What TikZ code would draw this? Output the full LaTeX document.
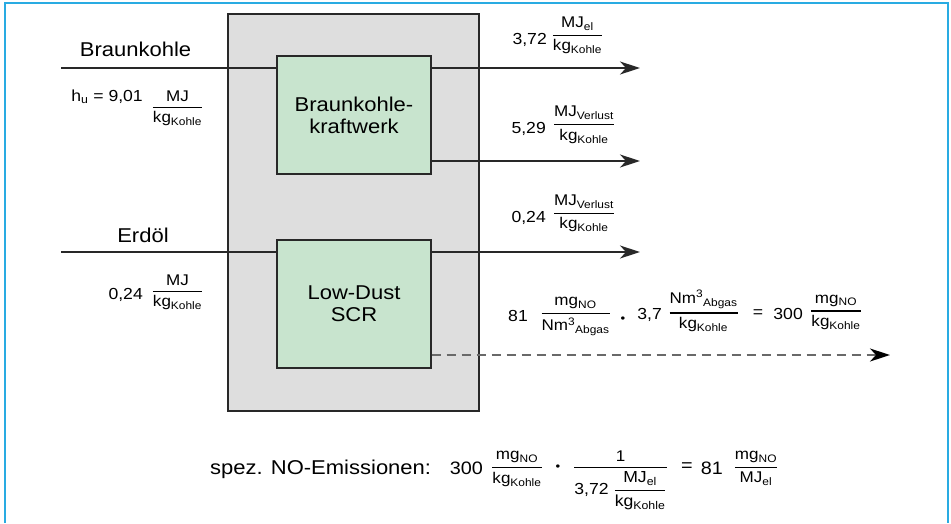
\documentclass[tikz,border=0pt]{standalone}
\usepackage{amsmath}
\usepackage{fontspec}
\setmainfont{Liberation Sans}[FakeStretch=1.1]
\usetikzlibrary{arrows.meta,calc}
\definecolor{frameblue}{RGB}{41,171,226}
\definecolor{boxgray}{RGB}{222,222,222}
\definecolor{boxgreen}{RGB}{200,228,206}
\definecolor{linegray}{RGB}{40,40,40}
\definecolor{dashgray}{RGB}{105,105,105}
\newcommand\fr[2]{$\genfrac{}{}{1.3pt}{0}{\mbox{#1}}{\mbox{#2}}$}
\newcommand\sub[1]{\textsubscript{#1}}
\begin{document}
\begin{tikzpicture}[x=1pt,y=-1pt,
  big/.style={font=\fontsize{20}{22}\selectfont, inner sep=0pt},
  small/.style={font=\fontsize{16}{19}\selectfont, inner sep=0pt},
  mid/.style={font=\fontsize{18}{21}\selectfont, inner sep=0pt},
  frc/.style={font=\fontsize{15.5}{18}\selectfont, inner sep=0pt, anchor=base},
  dotsym/.style={font=\fontsize{12}{14}\selectfont, inner sep=0pt},
  gbox/.style={draw=linegray, line width=1.4pt, fill=boxgreen, minimum width=154pt,
    align=center, font=\fontsize{20}{22}\selectfont, inner sep=0pt},
  flow/.style={draw=linegray, line width=1.6pt},
  arr/.style={flow, -{Stealth[length=20pt,width=13pt,inset=6pt]}},
  dasharr/.style={draw=dashgray, line width=1.8pt, dash pattern=on 9pt off 6pt,
    -{Stealth[length=20pt,width=13pt,inset=6pt,color=black]}}]
\useasboundingbox (0,0) rectangle (951,523);
\draw[frameblue, line width=2pt] (5,523) -- (5,3) -- (948,3) -- (948,523);

\node[draw=linegray, line width=1.8pt, fill=boxgray, minimum width=251pt,
  minimum height=397pt, inner sep=0pt] (anlage) at (353.5,212.5) {};
\node[gbox, minimum height=118pt] (kw) at (354,115) {Braunkohle-\\kraftwerk};
\node[gbox, minimum height=128pt] (scr) at (354,304) {Low-Dust\\SCR};

\coordinate (inA) at (61,68);
\coordinate (inB) at (61,252);
\coordinate (outA) at (640,68);
\coordinate (outB) at (640,161);
\coordinate (outC) at (640,252);
\coordinate (outD) at (890,355);

\draw[flow] (inA) -- (inA -| kw.west);
\draw[flow] (inB) -- (inB -| scr.west);
\draw[arr] (kw.east |- outA) -- (outA);
\draw[arr] (kw.east |- outB) -- (outB);
\draw[arr] (scr.east |- outC) -- (outC);
\draw[dasharr] (scr.east |- outD) -- (outD);

% inputs
\node[big, anchor=base] (lblBK) at (135.5,56) {Braunkohle};
\node[big, anchor=base] (lblOil) at (143,242) {Erdöl};
\node[small, anchor=base east] (hu) at (143,101) {h\sub{u} = 9,01};
\node[frc] (fhu) at (177.5,110.75) {\fr{MJ}{kg\sub{Kohle}}};
\node[small, anchor=base east] (oilv) at (143,299) {0,24};
\node[frc] (foil) at (177.5,294.75) {\fr{MJ}{kg\sub{Kohle}}};

% outputs
\node[small, anchor=base east] (vA) at (547,44) {3,72};
\node[frc] (fA) at (577.5,38.75) {\fr{MJ\sub{el}}{kg\sub{Kohle}}};
\node[small, anchor=base east] (vB) at (546,133) {5,29};
\node[frc] (fB) at (584,128) {\fr{MJ\sub{Verlust}}{kg\sub{Kohle}}};
\node[small, anchor=base east] (vC) at (546,222) {0,24};
\node[frc] (fC) at (584,216.75) {\fr{MJ\sub{Verlust}}{kg\sub{Kohle}}};

% NO equation
\node[small, anchor=base east] (e81) at (528,321) {81};
\node[frc] (ef1) at (575.5,316.75) {\fr{mg\sub{NO}}{Nm\textsuperscript{3}\sub{Abgas}}};
\node[dotsym] (edot) at (623,320) {•};
\node[small, anchor=base east] (e37) at (662,319) {3,7};
\node[frc] (ef2) at (703.5,316.5) {\fr{Nm\textsuperscript{3}\sub{Abgas}}{kg\sub{Kohle}}};
\node[small] (eeq) at (758,314) {=};
\node[small, anchor=base east] (e300) at (803,319) {300};
\node[frc] (ef3) at (836,314.5) {\fr{mg\sub{NO}}{kg\sub{Kohle}}};

% bottom equation
\node[big, anchor=base west] (spez) at (210,474) {spez. NO-Emissionen:};
\node[mid, anchor=base east] (b300) at (483,474) {300};
\node[frc] (bf1) at (517,471) {\fr{mg\sub{NO}}{kg\sub{Kohle}}};
\node[dotsym] (bdot) at (558,468) {•};
\node[frc] (bf2) at (620.5,471) {$\genfrac{}{}{1.3pt}{0}{\mbox{1}}{\mbox{\fontsize{16}{19}\selectfont 3,72 \fr{MJ\sub{el}}{kg\sub{Kohle}}}}$};
\node[mid] (beq) at (687,467) {=};
\node[mid, anchor=base east] (b81) at (723,474) {81};
\node[frc] (bf3) at (756,471) {\fr{mg\sub{NO}}{MJ\sub{el}}};
\end{tikzpicture}
\end{document}
